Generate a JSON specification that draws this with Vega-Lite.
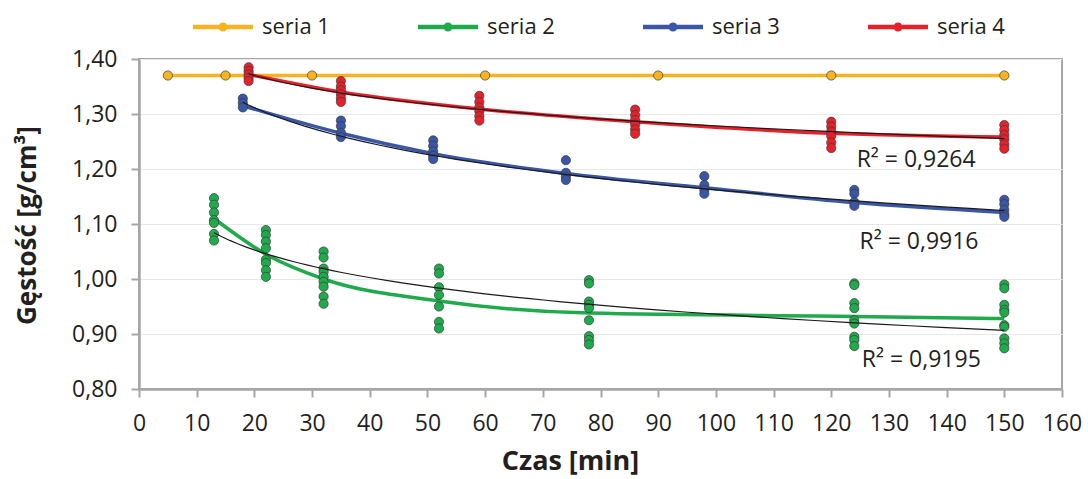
{
  "$schema": "https://vega.github.io/schema/vega-lite/v6.json",
  "width": 923,
  "height": 330,
  "autosize": "none",
  "padding": {"left": 139, "top": 59, "right": 26, "bottom": 90},
  "background": "white",
  "datasets": {
    "points": [
      {"s": "seria 1", "t": 5, "d": 1.37}, {"s": "seria 1", "t": 15, "d": 1.37}, {"s": "seria 1", "t": 30, "d": 1.37}, {"s": "seria 1", "t": 60, "d": 1.37}, {"s": "seria 1", "t": 90, "d": 1.37}, {"s": "seria 1", "t": 120, "d": 1.37}, {"s": "seria 1", "t": 150, "d": 1.37},
      {"s": "seria 2", "t": 13, "d": 1.147}, {"s": "seria 2", "t": 13, "d": 1.135}, {"s": "seria 2", "t": 13, "d": 1.121}, {"s": "seria 2", "t": 13, "d": 1.107}, {"s": "seria 2", "t": 13, "d": 1.102}, {"s": "seria 2", "t": 13, "d": 1.082}, {"s": "seria 2", "t": 13, "d": 1.070},
      {"s": "seria 2", "t": 22, "d": 1.089}, {"s": "seria 2", "t": 22, "d": 1.080}, {"s": "seria 2", "t": 22, "d": 1.068}, {"s": "seria 2", "t": 22, "d": 1.056}, {"s": "seria 2", "t": 22, "d": 1.035}, {"s": "seria 2", "t": 22, "d": 1.029}, {"s": "seria 2", "t": 22, "d": 1.016}, {"s": "seria 2", "t": 22, "d": 1.004},
      {"s": "seria 2", "t": 32, "d": 1.050}, {"s": "seria 2", "t": 32, "d": 1.039}, {"s": "seria 2", "t": 32, "d": 1.019}, {"s": "seria 2", "t": 32, "d": 1.013}, {"s": "seria 2", "t": 32, "d": 1.004}, {"s": "seria 2", "t": 32, "d": 0.995}, {"s": "seria 2", "t": 32, "d": 0.986}, {"s": "seria 2", "t": 32, "d": 0.968}, {"s": "seria 2", "t": 32, "d": 0.955},
      {"s": "seria 2", "t": 52, "d": 1.019}, {"s": "seria 2", "t": 52, "d": 1.010}, {"s": "seria 2", "t": 52, "d": 0.985}, {"s": "seria 2", "t": 52, "d": 0.971}, {"s": "seria 2", "t": 52, "d": 0.950}, {"s": "seria 2", "t": 52, "d": 0.922}, {"s": "seria 2", "t": 52, "d": 0.910},
      {"s": "seria 2", "t": 78, "d": 0.998}, {"s": "seria 2", "t": 78, "d": 0.992}, {"s": "seria 2", "t": 78, "d": 0.959}, {"s": "seria 2", "t": 78, "d": 0.953}, {"s": "seria 2", "t": 78, "d": 0.947}, {"s": "seria 2", "t": 78, "d": 0.925}, {"s": "seria 2", "t": 78, "d": 0.896}, {"s": "seria 2", "t": 78, "d": 0.889}, {"s": "seria 2", "t": 78, "d": 0.881},
      {"s": "seria 2", "t": 124, "d": 0.992}, {"s": "seria 2", "t": 124, "d": 0.989}, {"s": "seria 2", "t": 124, "d": 0.956}, {"s": "seria 2", "t": 124, "d": 0.947}, {"s": "seria 2", "t": 124, "d": 0.925}, {"s": "seria 2", "t": 124, "d": 0.919}, {"s": "seria 2", "t": 124, "d": 0.895}, {"s": "seria 2", "t": 124, "d": 0.889}, {"s": "seria 2", "t": 124, "d": 0.878},
      {"s": "seria 2", "t": 150, "d": 0.990}, {"s": "seria 2", "t": 150, "d": 0.983}, {"s": "seria 2", "t": 150, "d": 0.953}, {"s": "seria 2", "t": 150, "d": 0.944}, {"s": "seria 2", "t": 150, "d": 0.939}, {"s": "seria 2", "t": 150, "d": 0.916}, {"s": "seria 2", "t": 150, "d": 0.913}, {"s": "seria 2", "t": 150, "d": 0.892}, {"s": "seria 2", "t": 150, "d": 0.883}, {"s": "seria 2", "t": 150, "d": 0.874},
      {"s": "seria 3", "t": 18, "d": 1.328}, {"s": "seria 3", "t": 18, "d": 1.320}, {"s": "seria 3", "t": 18, "d": 1.312},
      {"s": "seria 3", "t": 35, "d": 1.288}, {"s": "seria 3", "t": 35, "d": 1.278}, {"s": "seria 3", "t": 35, "d": 1.266}, {"s": "seria 3", "t": 35, "d": 1.258},
      {"s": "seria 3", "t": 51, "d": 1.252}, {"s": "seria 3", "t": 51, "d": 1.242}, {"s": "seria 3", "t": 51, "d": 1.232}, {"s": "seria 3", "t": 51, "d": 1.224}, {"s": "seria 3", "t": 51, "d": 1.218},
      {"s": "seria 3", "t": 74, "d": 1.216}, {"s": "seria 3", "t": 74, "d": 1.193}, {"s": "seria 3", "t": 74, "d": 1.186}, {"s": "seria 3", "t": 74, "d": 1.180},
      {"s": "seria 3", "t": 98, "d": 1.187}, {"s": "seria 3", "t": 98, "d": 1.171}, {"s": "seria 3", "t": 98, "d": 1.162}, {"s": "seria 3", "t": 98, "d": 1.155},
      {"s": "seria 3", "t": 124, "d": 1.162}, {"s": "seria 3", "t": 124, "d": 1.155}, {"s": "seria 3", "t": 124, "d": 1.140}, {"s": "seria 3", "t": 124, "d": 1.133},
      {"s": "seria 3", "t": 150, "d": 1.144}, {"s": "seria 3", "t": 150, "d": 1.136}, {"s": "seria 3", "t": 150, "d": 1.126}, {"s": "seria 3", "t": 150, "d": 1.118}, {"s": "seria 3", "t": 150, "d": 1.113},
      {"s": "seria 4", "t": 19, "d": 1.385}, {"s": "seria 4", "t": 19, "d": 1.378}, {"s": "seria 4", "t": 19, "d": 1.372}, {"s": "seria 4", "t": 19, "d": 1.366}, {"s": "seria 4", "t": 19, "d": 1.360},
      {"s": "seria 4", "t": 35, "d": 1.360}, {"s": "seria 4", "t": 35, "d": 1.350}, {"s": "seria 4", "t": 35, "d": 1.343}, {"s": "seria 4", "t": 35, "d": 1.336}, {"s": "seria 4", "t": 35, "d": 1.328}, {"s": "seria 4", "t": 35, "d": 1.322},
      {"s": "seria 4", "t": 59, "d": 1.333}, {"s": "seria 4", "t": 59, "d": 1.322}, {"s": "seria 4", "t": 59, "d": 1.312}, {"s": "seria 4", "t": 59, "d": 1.305}, {"s": "seria 4", "t": 59, "d": 1.296}, {"s": "seria 4", "t": 59, "d": 1.288},
      {"s": "seria 4", "t": 86, "d": 1.308}, {"s": "seria 4", "t": 86, "d": 1.298}, {"s": "seria 4", "t": 86, "d": 1.289}, {"s": "seria 4", "t": 86, "d": 1.281}, {"s": "seria 4", "t": 86, "d": 1.272}, {"s": "seria 4", "t": 86, "d": 1.264},
      {"s": "seria 4", "t": 120, "d": 1.286}, {"s": "seria 4", "t": 120, "d": 1.277}, {"s": "seria 4", "t": 120, "d": 1.268}, {"s": "seria 4", "t": 120, "d": 1.260}, {"s": "seria 4", "t": 120, "d": 1.248}, {"s": "seria 4", "t": 120, "d": 1.238},
      {"s": "seria 4", "t": 150, "d": 1.280}, {"s": "seria 4", "t": 150, "d": 1.271}, {"s": "seria 4", "t": 150, "d": 1.262}, {"s": "seria 4", "t": 150, "d": 1.254}, {"s": "seria 4", "t": 150, "d": 1.245}, {"s": "seria 4", "t": 150, "d": 1.237}
    ],
    "means": [
      {"s": "seria 1", "t": 5, "d": 1.37}, {"s": "seria 1", "t": 15, "d": 1.37}, {"s": "seria 1", "t": 30, "d": 1.37}, {"s": "seria 1", "t": 60, "d": 1.37}, {"s": "seria 1", "t": 90, "d": 1.37}, {"s": "seria 1", "t": 120, "d": 1.37}, {"s": "seria 1", "t": 150, "d": 1.37},
      {"s": "seria 2", "t": 13, "d": 1.11}, {"s": "seria 2", "t": 22, "d": 1.045}, {"s": "seria 2", "t": 32, "d": 1.0}, {"s": "seria 2", "t": 52, "d": 0.96}, {"s": "seria 2", "t": 78, "d": 0.938}, {"s": "seria 2", "t": 124, "d": 0.932}, {"s": "seria 2", "t": 150, "d": 0.928},
      {"s": "seria 3", "t": 18, "d": 1.315}, {"s": "seria 3", "t": 35, "d": 1.265}, {"s": "seria 3", "t": 51, "d": 1.228}, {"s": "seria 3", "t": 74, "d": 1.192}, {"s": "seria 3", "t": 98, "d": 1.166}, {"s": "seria 3", "t": 124, "d": 1.139}, {"s": "seria 3", "t": 150, "d": 1.121},
      {"s": "seria 4", "t": 19, "d": 1.372}, {"s": "seria 4", "t": 35, "d": 1.34}, {"s": "seria 4", "t": 59, "d": 1.309}, {"s": "seria 4", "t": 86, "d": 1.286}, {"s": "seria 4", "t": 120, "d": 1.265}, {"s": "seria 4", "t": 150, "d": 1.258}
    ],
    "labels": [
      {"label": "R² = 0,9264", "t": 124.4, "d": 1.216},
      {"label": "R² = 0,9916", "t": 124.9, "d": 1.067},
      {"label": "R² = 0,9195", "t": 125.3, "d": 0.853}
    ]
  },
  "encoding": {
    "x": {
      "field": "t", "type": "quantitative",
      "scale": {"domain": [0, 160], "nice": false, "zero": false},
      "axis": {
        "title": "Czas [min]",
        "values": [0, 10, 20, 30, 40, 50, 60, 70, 80, 90, 100, 110, 120, 130, 140, 150, 160],
        "grid": false,
        "labelFlush": false,
        "labelOverlap": false,
        "labelPadding": 15,
        "titleX": 431,
        "titleY": 72,
        "titleFontSize": 27,
        "titleBaseline": "middle"
      }
    },
    "y": {
      "field": "d", "type": "quantitative",
      "scale": {"domain": [0.8, 1.4], "nice": false, "zero": false},
      "axis": {
        "title": "Gęstość [g/cm³]",
        "values": [0.8, 0.9, 1.0, 1.1, 1.2, 1.3, 1.4],
        "labelExpr": "replace(format(datum.value, '.2f'), '.', ',')",
        "grid": true,
        "labelFlush": false,
        "labelPadding": 14,
        "titleX": -112,
        "titleY": 166,
        "titleFontSize": 26,
        "titleBaseline": "middle",
        "titleAlign": "center"
      }
    }
  },
  "layer": [
    {
      "data": {"name": "means"},
      "mark": {"type": "line", "strokeWidth": 3.5, "interpolate": "monotone"},
      "encoding": {
        "color": {
          "field": "s", "type": "nominal",
          "scale": {"domain": ["seria 1", "seria 2", "seria 3", "seria 4"], "range": ["#F7B320", "#1FAA4B", "#3A56A6", "#E8202A"]},
          "legend": {
            "title": null,
            "orient": "none",
            "legendX": 54,
            "legendY": -62,
            "direction": "horizontal",
            "columns": 4,
            "columnPadding": 88,
            "symbolType": "M-1,-0.075H1V0.075H-1Z M0.15,0A0.15,0.15,0,1,1,-0.15,0A0.15,0.15,0,1,1,0.15,0Z",
            "symbolSize": 3600,
            "symbolStrokeWidth": 0,
            "symbolOpacity": 1,
            "labelFontSize": 22,
            "labelOffset": 9,
            "labelColor": "#231F20",
            "labelFont": "Open Sans"
          }
        }
      }
    },
    {
      "data": {"name": "points"},
      "mark": {"type": "circle", "size": 85, "opacity": 1, "stroke": "#3a3a3a", "strokeWidth": 0.7},
      "encoding": {
        "color": {"field": "s", "type": "nominal", "legend": null}
      }
    },
    {
      "data": {"name": "means"},
      "transform": [
        {"filter": "datum.s !== 'seria 1'"},
        {"regression": "d", "on": "t", "groupby": ["s"], "method": "log"}
      ],
      "mark": {"type": "line", "color": "#1a1a1a", "strokeWidth": 1.2},
      "encoding": {
        "detail": {"field": "s", "type": "nominal"}
      }
    },
    {
      "data": {"name": "labels"},
      "mark": {"type": "text", "align": "left", "baseline": "middle", "fontSize": 23, "font": "Open Sans", "color": "#231F20"},
      "encoding": {
        "text": {"field": "label", "type": "nominal"}
      }
    }
  ],
  "config": {
    "view": {"stroke": "#A6A6A6", "strokeWidth": 2},
    "axis": {
      "domainColor": "#A6A6A6",
      "domainWidth": 2.5,
      "tickColor": "#A6A6A6",
      "tickWidth": 2,
      "tickSize": 8,
      "gridColor": "#E8E8E8",
      "gridWidth": 1,
      "labelFont": "Open Sans",
      "labelFontSize": 23,
      "labelColor": "#231F20",
      "titleFont": "Open Sans",
      "titleFontWeight": "bold",
      "titleColor": "#231F20"
    }
  }
}
